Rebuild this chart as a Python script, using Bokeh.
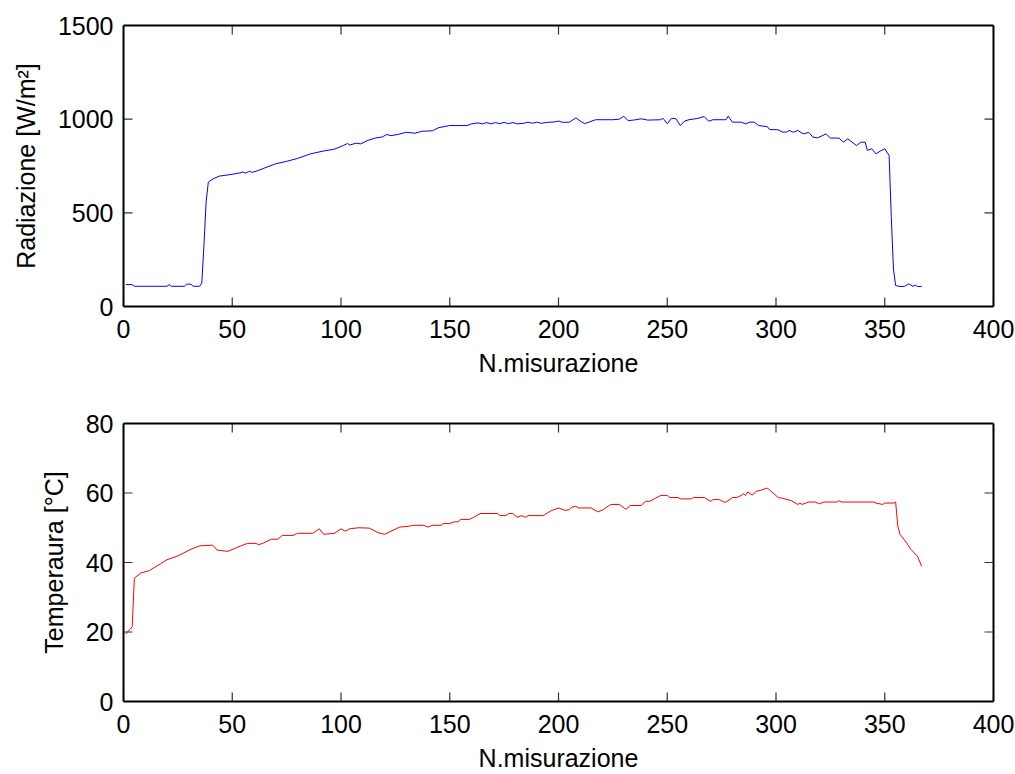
import math
from bokeh.plotting import figure
from bokeh.layouts import column
from bokeh.models import Range1d, LinearAxis, FixedTicker, CustomJSTickFormatter, ColumnDataSource
from bokeh.embed import file_html
from bokeh.resources import INLINE

# ---------------- data ----------------
rad_x = [1, 4, 5, 20, 21, 22, 28, 29, 31, 32, 35, 36, 37, 38, 39, 41, 44, 49, 53, 55, 56, 58, 59, 61,
         65, 70, 75, 80, 86, 92, 97, 101, 103, 104, 107, 109, 112, 116, 119, 121, 123, 126, 130, 134,
         137, 142, 145, 150, 158, 160, 163, 165, 167, 169, 171, 173, 175, 177, 179, 181, 184, 186, 188,
         190, 192, 195, 198, 200, 202, 205, 208, 210, 212, 214, 217, 225, 228, 230, 232, 235, 238, 241,
         247, 248, 250, 252, 254, 256, 258, 260, 264, 267, 269, 271, 277, 278, 280, 284, 286, 288, 290,
         292, 294, 296, 297, 301, 303, 305, 306, 308, 310, 312, 313, 315, 317, 319, 321, 323, 325, 329,
         331, 333, 337, 339, 341, 342, 344, 346, 348, 350, 352, 353, 354, 355, 357, 359, 361, 362, 363,
         364, 365, 367]
rad_y = [117, 117, 108, 108, 117, 108, 108, 119, 119, 108, 108, 125, 330, 560, 664, 680, 696, 704, 712,
         718, 712, 722, 716, 722, 740, 762, 775, 790, 815, 830, 840, 859, 870, 862, 872, 868, 885, 900,
         905, 918, 912, 918, 930, 925, 935, 938, 955, 966, 966, 975, 980, 975, 982, 975, 982, 976, 983,
         976, 982, 975, 978, 984, 978, 984, 978, 983, 985, 990, 983, 984, 1007, 990, 976, 984, 997, 997,
         1000, 1016, 992, 996, 1002, 995, 997, 1005, 976, 1005, 1002, 966, 990, 997, 1004, 1014, 989,
         997, 997, 1016, 984, 984, 975, 984, 984, 966, 963, 960, 945, 943, 931, 931, 940, 930, 940, 925,
         922, 930, 904, 900, 910, 922, 899, 899, 877, 895, 859, 877, 877, 833, 842, 815, 830, 842, 806,
         480, 200, 112, 107, 107, 121, 115, 107, 114, 107, 107]

tmp_x = [1, 4, 5, 8, 12, 14, 17, 20, 25, 31, 35, 41, 43, 48, 52, 57, 61, 62, 64, 68, 71, 73, 78, 80,
         87, 90, 92, 97, 100, 102, 104, 108, 113, 117, 120, 123, 127, 131, 133, 138, 140, 142, 146, 147,
         150, 152, 154, 155, 159, 161, 164, 172, 173, 176, 177, 179, 181, 183, 185, 186, 193, 195, 197,
         200, 203, 205, 206, 208, 209, 215, 218, 220, 224, 228, 231, 233, 238, 240, 242, 244, 247, 250,
         251, 255, 256, 261, 262, 267, 270, 271, 274, 276, 277, 280, 282, 284, 285, 286, 287, 289, 291,
         293, 296, 297, 301, 303, 307, 310, 311, 312, 315, 318, 320, 322, 328, 329, 330, 345, 346, 349,
         350, 354, 355, 356, 357, 360, 362, 365, 367]
tmp_y = [19.4, 21.5, 35.5, 37.0, 37.7, 38.5, 39.6, 40.8, 41.9, 43.8, 44.8, 45.0, 43.6, 43.2, 44.3, 45.5,
         45.5, 45.1, 45.5, 46.7, 46.7, 47.8, 47.8, 48.4, 48.4, 49.7, 48.1, 48.4, 49.7, 49.0, 49.7, 50.0,
         49.9, 48.6, 48.1, 49.0, 50.2, 50.4, 50.7, 50.7, 50.2, 50.7, 50.7, 51.2, 51.2, 51.7, 51.7, 52.4,
         52.4, 53.0, 54.1, 54.1, 53.5, 53.5, 54.1, 54.1, 53.0, 53.5, 53.0, 53.5, 53.5, 54.3, 55.0, 55.7,
         55.0, 55.2, 55.9, 56.2, 55.7, 55.7, 54.6, 55.0, 56.7, 56.7, 55.3, 56.4, 56.4, 57.6, 57.6, 58.3,
         59.3, 59.3, 58.7, 58.7, 58.3, 58.3, 58.7, 58.7, 57.6, 58.1, 58.1, 57.4, 57.4, 58.7, 58.7, 59.3,
         59.8, 59.3, 60.3, 59.4, 60.5, 60.8, 61.4, 60.9, 58.7, 58.5, 57.8, 56.7, 57.1, 56.7, 57.4, 57.4,
         56.9, 57.4, 57.4, 57.8, 57.4, 57.4, 57.1, 56.7, 57.1, 57.1, 57.4, 50.5, 48.1, 45.7, 43.8, 41.8,
         38.9]

x_ticks = [0, 50, 100, 150, 200, 250, 300, 350, 400]
rad_ticks = [0, 500, 1000, 1500]
tmp_ticks = [0, 20, 40, 60, 80]
x_label = "N.misurazione"
rad_label = "Radiazione [W/m\u00b2]"
tmp_label = "Temperaura [\u00b0C]"

FONT = "Liberation Sans"
FS = "25px"
TICK_LEN = 9
TICK_COLOR = "#333333"
XMAX = 400


def style_axis(ax, ticks, show_labels):
    ax.ticker = FixedTicker(ticks=ticks)
    ax.major_tick_in = 0
    ax.major_tick_out = 0
    ax.minor_tick_in = 0
    ax.minor_tick_out = 0
    ax.axis_line_color = "black"
    ax.axis_line_width = 2
    ax.major_label_text_font = FONT
    ax.major_label_text_font_size = FS
    ax.major_label_text_color = "black"
    ax.axis_label_text_font = FONT
    ax.axis_label_text_font_size = FS
    ax.axis_label_text_font_style = "normal"
    ax.axis_label_text_color = "black"
    if not show_labels:
        ax.formatter = CustomJSTickFormatter(code="return ''")
        ax.major_label_standoff = 0


def add_inner_ticks(p, yticks, ymax):
    # MATLAB-style inward tick marks on all four sides, placed at the tick values
    kw = dict(length=TICK_LEN, length_units="screen", line_color=TICK_COLOR, line_width=1.2)
    p.ray(x=x_ticks, y=[0] * len(x_ticks), angle=math.pi / 2, **kw)
    p.ray(x=x_ticks, y=[ymax] * len(x_ticks), angle=-math.pi / 2, **kw)
    p.ray(x=[0] * len(yticks), y=yticks, angle=0, **kw)
    p.ray(x=[XMAX] * len(yticks), y=yticks, angle=math.pi, **kw)


def make_fig(xs, ys, color, yticks, ymax, ylabel, height, top, bottom):
    p = figure(width=1015, height=height, output_backend="svg", toolbar_location=None,
               x_range=Range1d(0, XMAX), y_range=Range1d(0, ymax),
               min_border_left=123, min_border_right=22,
               min_border_top=top, min_border_bottom=bottom,
               background_fill_color="white", border_fill_color="white")
    p.outline_line_color = None
    p.grid.visible = False
    add_inner_ticks(p, yticks, ymax)
    src = ColumnDataSource(dict(x=xs, y=ys))
    p.line("x", "y", source=src, line_color=color, line_width=1)

    xa = p.xaxis[0]
    style_axis(xa, x_ticks, True)
    xa.axis_label = x_label
    xa.major_label_standoff = 13
    xa.axis_label_standoff = 8

    ya = p.yaxis[0]
    style_axis(ya, yticks, True)
    ya.axis_label = ylabel
    ya.major_label_standoff = 10
    ya.axis_label_standoff = 15

    top_ax = LinearAxis()
    style_axis(top_ax, x_ticks, False)
    p.add_layout(top_ax, "above")
    right_ax = LinearAxis()
    style_axis(right_ax, yticks, False)
    p.add_layout(right_ax, "right")
    return p


p1 = make_fig(rad_x, rad_y, "#0000ff", rad_ticks, 1500, rad_label, 390, 25, 84)
p2 = make_fig(tmp_x, tmp_y, "#ff0000", tmp_ticks, 80, tmp_label, 384, 33, 70)

layout = column(p1, p2, spacing=0)
open("out.html", "w").write(file_html(layout, INLINE))
